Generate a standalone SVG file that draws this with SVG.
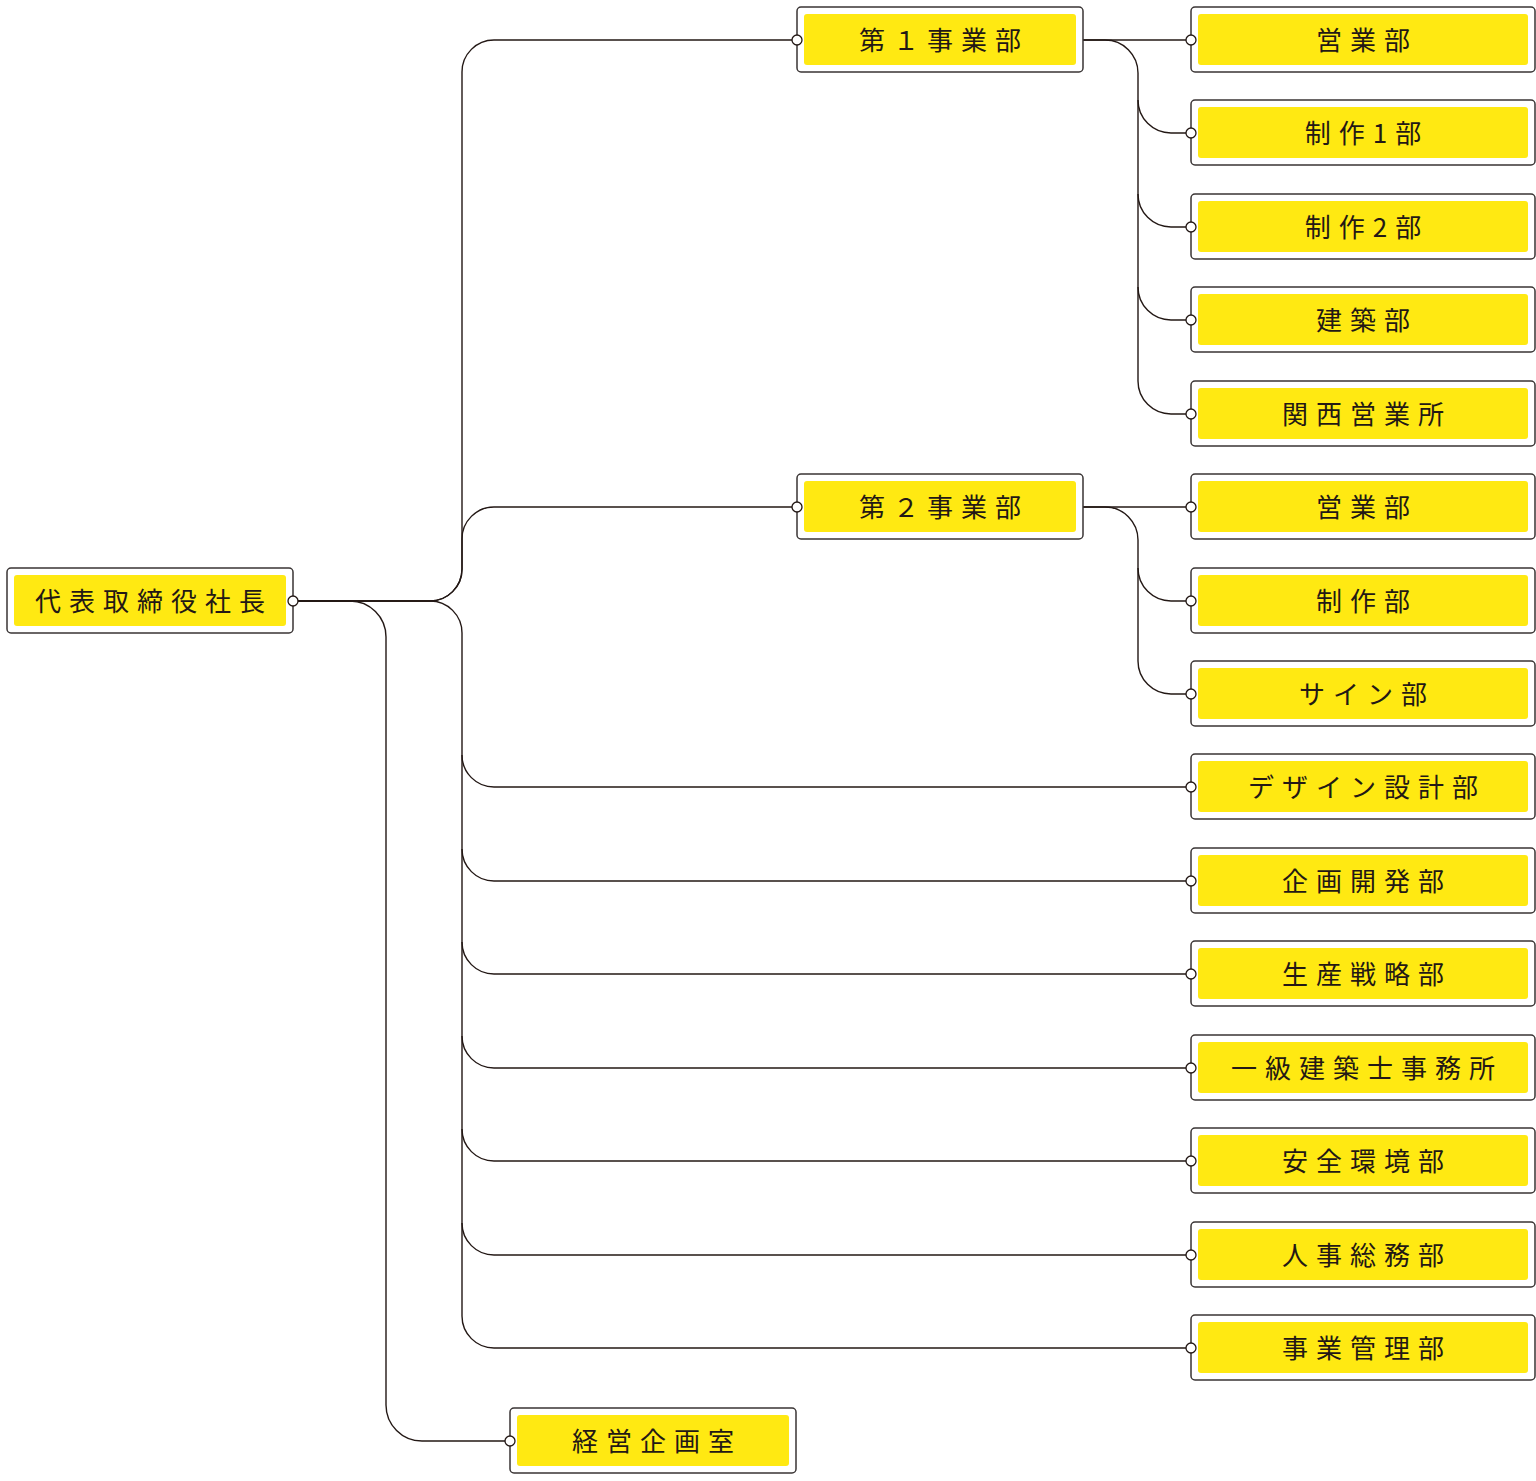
<svg xmlns="http://www.w3.org/2000/svg" width="1536" height="1481" viewBox="0 0 1536 1481">
<style>
.o{fill:#fff;stroke:#3a3535;stroke-width:1.5}
.i{fill:#FFE912}
.t{font-family:"Noto Sans CJK JP","Noto Sans",sans-serif;font-size:26px;letter-spacing:8px;fill:#231815;text-anchor:middle;dominant-baseline:central}
.c{fill:none;stroke:#231815;stroke-width:1.4}
.d{fill:#fff;stroke:#231815;stroke-width:1.3}
</style>
<rect width="1536" height="1481" fill="#fff"/>
<g id="connectors" class="c">
<path d="M293,601 H430 A32,32 0 0 0 462,569 V72 A32,32 0 0 1 494,40 H797"/>
<path d="M293,601 H430 A32,32 0 0 0 462,569 V539 A32,32 0 0 1 494,507 H797"/>
<path d="M293,601 H430 A32,32 0 0 1 462,633 V755 A32,32 0 0 0 494,787 H1191"/>
<path d="M462,755 V849 A32,32 0 0 0 494,881 H1191"/>
<path d="M462,849 V942 A32,32 0 0 0 494,974 H1191"/>
<path d="M462,942 V1036 A32,32 0 0 0 494,1068 H1191"/>
<path d="M462,1036 V1129 A32,32 0 0 0 494,1161 H1191"/>
<path d="M462,1129 V1223 A32,32 0 0 0 494,1255 H1191"/>
<path d="M462,1223 V1316 A32,32 0 0 0 494,1348 H1191"/>
<path d="M293,601 H350 A36,36 0 0 1 386,637 V1405 A36,36 0 0 0 422,1441 H510"/>
<path d="M1083,40 H1191"/>
<path d="M1083,40 H1105 A33,33 0 0 1 1138,73 V100 A33,33 0 0 0 1171,133 H1191"/>
<path d="M1138,100 V194 A33,33 0 0 0 1171,227 H1191"/>
<path d="M1138,194 V287 A33,33 0 0 0 1171,320 H1191"/>
<path d="M1138,287 V381 A33,33 0 0 0 1171,414 H1191"/>
<path d="M1083,507 H1191"/>
<path d="M1083,507 H1105 A33,33 0 0 1 1138,540 V568 A33,33 0 0 0 1171,601 H1191"/>
<path d="M1138,568 V661 A33,33 0 0 0 1171,694 H1191"/>
</g>
<g id="n-root"><rect class="o" x="7" y="568" width="286" height="65" rx="4"/><rect class="i" x="14" y="575" width="272" height="51" rx="3"/><text class="t" x="154" y="599">代表取締役社長</text><circle class="d" cx="293" cy="601" r="5"/></g>
<g id="n-jigyo1"><rect class="o" x="797" y="7" width="286" height="65" rx="4"/><rect class="i" x="804" y="14" width="272" height="51" rx="3"/><text class="t" x="944" y="38">第１事業部</text><circle class="d" cx="797" cy="40" r="5"/></g>
<g id="n-jigyo2"><rect class="o" x="797" y="474" width="286" height="65" rx="4"/><rect class="i" x="804" y="481" width="272" height="51" rx="3"/><text class="t" x="944" y="505">第２事業部</text><circle class="d" cx="797" cy="507" r="5"/></g>
<g id="n-keiei"><rect class="o" x="510" y="1408" width="286" height="65" rx="4"/><rect class="i" x="517" y="1415" width="272" height="51" rx="3"/><text class="t" x="657" y="1439">経営企画室</text><circle class="d" cx="510" cy="1441" r="5"/></g>
<g id="n-r0"><rect class="o" x="1191" y="7" width="344" height="65" rx="4"/><rect class="i" x="1198" y="14" width="330" height="51" rx="3"/><text class="t" x="1367" y="38">営業部</text><circle class="d" cx="1191" cy="40" r="5"/></g>
<g id="n-r1"><rect class="o" x="1191" y="100" width="344" height="65" rx="4"/><rect class="i" x="1198" y="107" width="330" height="51" rx="3"/><text class="t" x="1367" y="131">制作1部</text><circle class="d" cx="1191" cy="133" r="5"/></g>
<g id="n-r2"><rect class="o" x="1191" y="194" width="344" height="65" rx="4"/><rect class="i" x="1198" y="201" width="330" height="51" rx="3"/><text class="t" x="1367" y="225">制作2部</text><circle class="d" cx="1191" cy="227" r="5"/></g>
<g id="n-r3"><rect class="o" x="1191" y="287" width="344" height="65" rx="4"/><rect class="i" x="1198" y="294" width="330" height="51" rx="3"/><text class="t" x="1367" y="318">建築部</text><circle class="d" cx="1191" cy="320" r="5"/></g>
<g id="n-r4"><rect class="o" x="1191" y="381" width="344" height="65" rx="4"/><rect class="i" x="1198" y="388" width="330" height="51" rx="3"/><text class="t" x="1367" y="412">関西営業所</text><circle class="d" cx="1191" cy="414" r="5"/></g>
<g id="n-r5"><rect class="o" x="1191" y="474" width="344" height="65" rx="4"/><rect class="i" x="1198" y="481" width="330" height="51" rx="3"/><text class="t" x="1367" y="505">営業部</text><circle class="d" cx="1191" cy="507" r="5"/></g>
<g id="n-r6"><rect class="o" x="1191" y="568" width="344" height="65" rx="4"/><rect class="i" x="1198" y="575" width="330" height="51" rx="3"/><text class="t" x="1367" y="599">制作部</text><circle class="d" cx="1191" cy="601" r="5"/></g>
<g id="n-r7"><rect class="o" x="1191" y="661" width="344" height="65" rx="4"/><rect class="i" x="1198" y="668" width="330" height="51" rx="3"/><text class="t" x="1367" y="692">サイン部</text><circle class="d" cx="1191" cy="694" r="5"/></g>
<g id="n-r8"><rect class="o" x="1191" y="754" width="344" height="65" rx="4"/><rect class="i" x="1198" y="761" width="330" height="51" rx="3"/><text class="t" x="1367" y="785">デザイン設計部</text><circle class="d" cx="1191" cy="787" r="5"/></g>
<g id="n-r9"><rect class="o" x="1191" y="848" width="344" height="65" rx="4"/><rect class="i" x="1198" y="855" width="330" height="51" rx="3"/><text class="t" x="1367" y="879">企画開発部</text><circle class="d" cx="1191" cy="881" r="5"/></g>
<g id="n-r10"><rect class="o" x="1191" y="941" width="344" height="65" rx="4"/><rect class="i" x="1198" y="948" width="330" height="51" rx="3"/><text class="t" x="1367" y="972">生産戦略部</text><circle class="d" cx="1191" cy="974" r="5"/></g>
<g id="n-r11"><rect class="o" x="1191" y="1035" width="344" height="65" rx="4"/><rect class="i" x="1198" y="1042" width="330" height="51" rx="3"/><text class="t" x="1367" y="1066">一級建築士事務所</text><circle class="d" cx="1191" cy="1068" r="5"/></g>
<g id="n-r12"><rect class="o" x="1191" y="1128" width="344" height="65" rx="4"/><rect class="i" x="1198" y="1135" width="330" height="51" rx="3"/><text class="t" x="1367" y="1159">安全環境部</text><circle class="d" cx="1191" cy="1161" r="5"/></g>
<g id="n-r13"><rect class="o" x="1191" y="1222" width="344" height="65" rx="4"/><rect class="i" x="1198" y="1229" width="330" height="51" rx="3"/><text class="t" x="1367" y="1253">人事総務部</text><circle class="d" cx="1191" cy="1255" r="5"/></g>
<g id="n-r14"><rect class="o" x="1191" y="1315" width="344" height="65" rx="4"/><rect class="i" x="1198" y="1322" width="330" height="51" rx="3"/><text class="t" x="1367" y="1346">事業管理部</text><circle class="d" cx="1191" cy="1348" r="5"/></g>
</svg>
